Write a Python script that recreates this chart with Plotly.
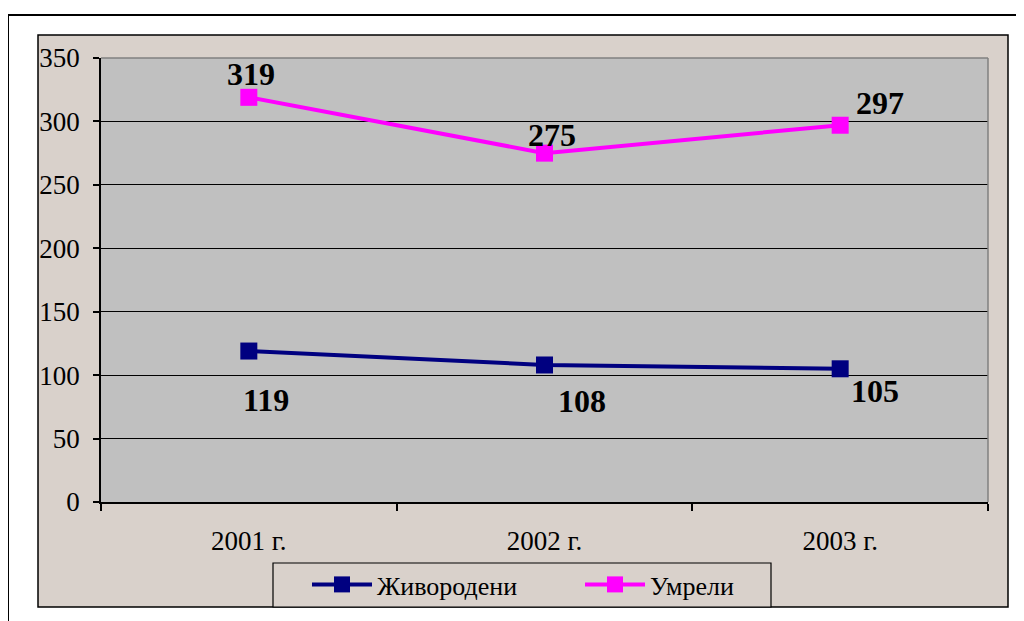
import plotly.graph_objects as go

categories = ["2001 г.", "2002 г.", "2003 г."]
live_births = [119, 108, 105]
deaths = [319, 275, 297]
series_names = ["Живородени", "Умрели"]
y_ticks = [0, 50, 100, 150, 200, 250, 300, 350]

# label offsets in px (xshift, yshift)
birth_shifts = [(17, -49), (37, -36), (35, -22)]
death_shifts = [(2, 23), (7, 18), (40, 22)]

OFF = 8  # page body margin
W, H = 1024 - OFF, 621 - OFF
# plot area in page coordinates
L, R, T, B = 101, 988, 58, 502
FONT = "Liberation Serif"
TAN = "#D9D1CB"


def px(x):
    return (x - L) / (R - L)


def py(y):
    return (B - y) / (B - T)


fig = go.Figure()
fig.add_trace(go.Scatter(
    x=categories, y=live_births, name=series_names[0], mode="lines+markers",
    line=dict(color="#000080", width=4),
    marker=dict(symbol="square", size=17, color="#000080"),
))
fig.add_trace(go.Scatter(
    x=categories, y=deaths, name=series_names[1], mode="lines+markers",
    line=dict(color="#FF00FF", width=4),
    marker=dict(symbol="square", size=17, color="#FF00FF"),
))

annotations = []
for c, v, (dx, dy) in zip(categories, live_births, birth_shifts):
    annotations.append(dict(x=c, y=v, xref="x", yref="y", text=str(v), showarrow=False,
                            xshift=dx, yshift=dy,
                            font=dict(family=FONT, size=32, color="black", weight="bold")))
for c, v, (dx, dy) in zip(categories, deaths, death_shifts):
    annotations.append(dict(x=c, y=v, xref="x", yref="y", text=str(v), showarrow=False,
                            xshift=dx, yshift=dy,
                            font=dict(family=FONT, size=32, color="black", weight="bold")))

shapes = [
    # outer white frame
    dict(type="rect", xref="paper", yref="paper", x0=px(8), x1=px(1040), y0=py(15), y1=py(640),
         line=dict(color="black", width=2), fillcolor="white", layer="below"),
    # chart area
    dict(type="rect", xref="paper", yref="paper", x0=px(38), x1=px(1008), y0=py(35), y1=py(607),
         line=dict(color="black", width=1.5), fillcolor=TAN, layer="below"),
    # plot area
    dict(type="rect", xref="paper", yref="paper", x0=0, x1=1, y0=0, y1=1,
         line=dict(width=0), fillcolor="#C0C0C0", layer="below"),
    # plot area top/right border
    dict(type="line", xref="paper", yref="paper", x0=0, x1=1, y0=1, y1=1,
         line=dict(color="#808080", width=1.5)),
    dict(type="line", xref="paper", yref="paper", x0=1, x1=1, y0=0, y1=1,
         line=dict(color="#808080", width=1.5)),
    # legend box
    dict(type="rect", xref="paper", yref="paper", x0=px(273), x1=px(771), y0=py(563), y1=py(607),
         line=dict(color="black", width=1.2), fillcolor=TAN, layer="below"),
]

fig.update_layout(
    width=W, height=H,
    margin=dict(l=L - OFF, r=1024 - R, t=T - OFF, b=621 - B),
    paper_bgcolor="white",
    plot_bgcolor="rgba(0,0,0,0)",
    font=dict(family=FONT, size=27, color="black"),
    showlegend=True,
    legend=dict(
        orientation="h", x=px(307), xanchor="left", y=py(561), yanchor="top",
        bgcolor="rgba(0,0,0,0)", borderwidth=0,
        font=dict(family=FONT, size=26, color="black"),
        itemwidth=60,
        entrywidth=198,
    ),
    xaxis=dict(
        type="category", range=[-0.5, 2.5], tickson="boundaries",
        showline=True, linecolor="black", linewidth=1.5,
        ticks="outside", ticklen=7, tickcolor="black", tickwidth=1.5,
        showgrid=False, ticklabelstandoff=14,
        tickfont=dict(family=FONT, size=27, color="black"),
    ),
    yaxis=dict(
        range=[0, 350], tickvals=y_ticks,
        showline=True, linecolor="black", linewidth=1.5,
        ticks="outside", ticklen=6, tickcolor="black", tickwidth=1.5,
        showgrid=True, gridcolor="black", gridwidth=1, zeroline=False,
        ticklabelstandoff=8,
        tickfont=dict(family=FONT, size=27, color="black"),
    ),
    annotations=annotations,
    shapes=shapes,
)

fig.write_html("out.html")
